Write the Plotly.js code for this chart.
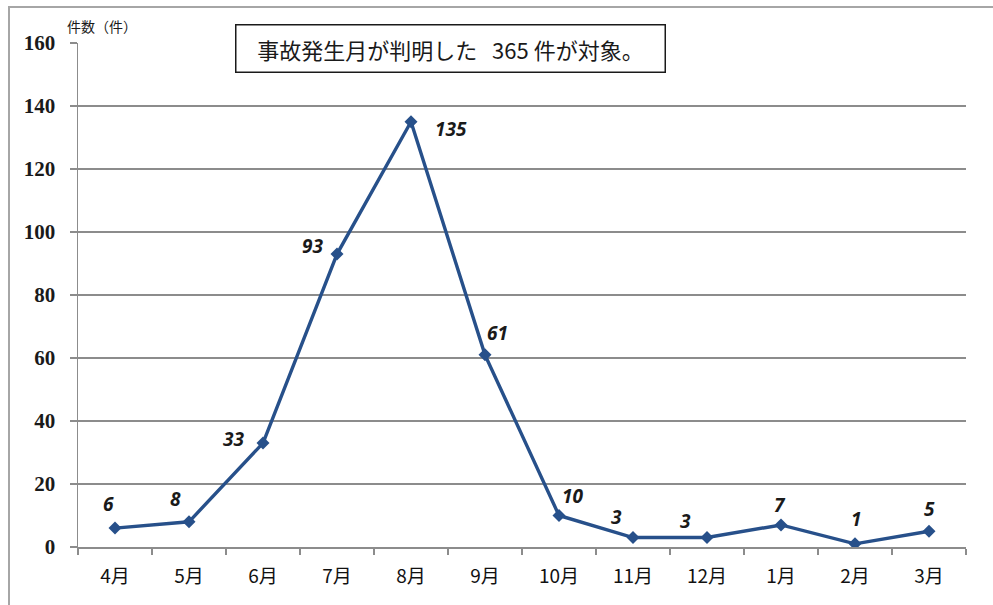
<!DOCTYPE html>
<html>
<head>
<meta charset="utf-8">
<script src="https://cdn.plot.ly/plotly-3.0.1.min.js"></script>
<style>
  html, body { margin: 0; padding: 0; background: #fff; }
  #wrap { position: relative; width: 993px; height: 605px; overflow: hidden; }
  #frame { position: absolute; left: 8px; top: 6px; width: 1000px; height: 700px;
           border-left: 2px solid #a6a6a6; border-top: 2px solid #a6a6a6; pointer-events: none; }
  #chart { position: absolute; left: 0; top: 0; width: 993px; height: 605px; }
</style>
</head>
<body>
<div id="wrap">
  <div id="chart"></div>
  <div id="frame"></div>
</div>
<script>
// Monthly accident counts (fiscal year, April to March)
const months = ['4月', '5月', '6月', '7月', '8月', '9月', '10月', '11月', '12月', '1月', '2月', '3月'];
const counts = [6, 8, 33, 93, 135, 61, 10, 3, 3, 7, 1, 5];
const yTicks = [0, 20, 40, 60, 80, 100, 120, 140, 160];

// Label offsets (pixels) for each value label around its marker
const labelShiftX = [-7, -14, -30, -25, 40, 12, 13, -17, -22, -1, 1, 0];
const labelShiftY = [24, 23, 4, 8, -7, 22, 20, 21, 17, 20, 25, 22];

const lineColor = '#27508a';

const valueLabels = months.map((m, i) => ({
  x: m, y: counts[i], xref: 'x', yref: 'y',
  text: String(counts[i]), showarrow: false,
  xshift: labelShiftX[i], yshift: labelShiftY[i],
  font: { family: 'Noto Sans, DejaVu Sans, sans-serif', size: 19, color: '#1a1a1a', weight: 'bold', style: 'italic' }
}));

const trace = {
  x: months, y: counts, type: 'scatter', mode: 'lines+markers',
  line: { color: lineColor, width: 3.4 },
  marker: { symbol: 'diamond', size: 10, color: lineColor },
  hoverinfo: 'x+y'
};

const layout = {
  width: 993, height: 605,
  margin: { l: 78, r: 27, t: 43, b: 58 },
  paper_bgcolor: '#fff', plot_bgcolor: '#fff',
  showlegend: false,
  xaxis: {
    type: 'category', range: [-0.5, 11.5],
    showline: true, linecolor: '#8c8c8c', linewidth: 1.5,
    ticks: 'outside', tickson: 'boundaries', ticklen: 6, tickcolor: '#8c8c8c', tickwidth: 1.5,
    showgrid: false, zeroline: false,
    ticklabelstandoff: 12,
    tickfont: { family: 'Noto Sans CJK JP, sans-serif', size: 19, color: '#111' }
  },
  yaxis: {
    range: [0, 160], tickvals: yTicks, ticktext: yTicks.map(String),
    showline: true, linecolor: '#8c8c8c', linewidth: 1.5,
    ticks: 'outside', ticklen: 7, tickcolor: '#8c8c8c', tickwidth: 1.5,
    showgrid: true, gridcolor: '#8c8c8c', gridwidth: 1.2,
    zeroline: false,
    ticklabelstandoff: 10,
    tickfont: { family: 'Liberation Serif, DejaVu Serif, serif', size: 21, color: '#1a1a1a', weight: 'bold' }
  },
  annotations: valueLabels.concat([
    {
      xref: 'paper', yref: 'paper', x: -0.015, y: 1.0, xanchor: 'left', yanchor: 'bottom',
      yshift: 5, text: '件数（件）', showarrow: false,
      font: { family: 'Noto Sans CJK JP, sans-serif', size: 14, color: '#1a1a1a' }
    },
    {
      xref: 'paper', yref: 'paper', x: 0.42, y: 0.99, xanchor: 'center', yanchor: 'middle',
      text: '事故発生月が判明した\u00a0\u00a0\u00a0365 件が対象。', showarrow: false,
      width: 424, height: 42, borderpad: 2,
      bordercolor: '#1a1a1a', borderwidth: 1.5, bgcolor: '#fff',
      font: { family: 'Noto Sans CJK JP, sans-serif', size: 22, color: '#1a1a1a' }
    }
  ])
};

Plotly.newPlot('chart', [trace], layout, { displayModeBar: false, staticPlot: true });
</script>
</body>
</html>
